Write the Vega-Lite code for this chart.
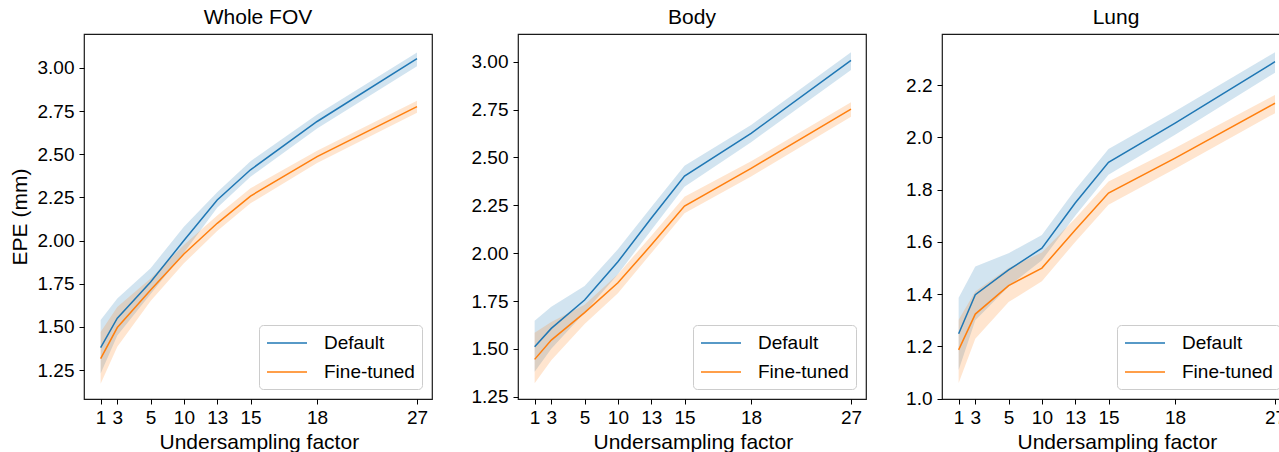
{
  "$schema": "https://vega.github.io/schema/vega-lite/v6.json",
  "padding": {"left": 8, "top": 6, "right": 0, "bottom": 0},
  "background": "white",
  "datasets": {
    "epe": [
      {"panel": "Whole FOV", "method": "Default", "x": 1, "y": 1.38, "lo": 1.23, "hi": 1.54},
      {"panel": "Whole FOV", "method": "Default", "x": 3, "y": 1.55, "lo": 1.45, "hi": 1.665},
      {"panel": "Whole FOV", "method": "Default", "x": 5, "y": 1.76, "lo": 1.69, "hi": 1.84},
      {"panel": "Whole FOV", "method": "Default", "x": 10, "y": 2.0, "lo": 1.93, "hi": 2.08},
      {"panel": "Whole FOV", "method": "Default", "x": 13, "y": 2.235, "lo": 2.19, "hi": 2.28},
      {"panel": "Whole FOV", "method": "Default", "x": 15, "y": 2.41, "lo": 2.37, "hi": 2.46},
      {"panel": "Whole FOV", "method": "Default", "x": 18, "y": 2.69, "lo": 2.65, "hi": 2.73},
      {"panel": "Whole FOV", "method": "Default", "x": 27, "y": 3.054, "lo": 3.01, "hi": 3.09},
      {"panel": "Whole FOV", "method": "Fine-tuned", "x": 1, "y": 1.316, "lo": 1.17, "hi": 1.47},
      {"panel": "Whole FOV", "method": "Fine-tuned", "x": 3, "y": 1.496, "lo": 1.385, "hi": 1.615},
      {"panel": "Whole FOV", "method": "Fine-tuned", "x": 5, "y": 1.714, "lo": 1.65, "hi": 1.78},
      {"panel": "Whole FOV", "method": "Fine-tuned", "x": 10, "y": 1.922, "lo": 1.868, "hi": 1.975},
      {"panel": "Whole FOV", "method": "Fine-tuned", "x": 13, "y": 2.1, "lo": 2.055, "hi": 2.145},
      {"panel": "Whole FOV", "method": "Fine-tuned", "x": 15, "y": 2.258, "lo": 2.216, "hi": 2.303},
      {"panel": "Whole FOV", "method": "Fine-tuned", "x": 18, "y": 2.486, "lo": 2.45, "hi": 2.52},
      {"panel": "Whole FOV", "method": "Fine-tuned", "x": 27, "y": 2.776, "lo": 2.741, "hi": 2.81},
      {"panel": "Body", "method": "Default", "x": 1, "y": 1.511, "lo": 1.38, "hi": 1.647},
      {"panel": "Body", "method": "Default", "x": 3, "y": 1.607, "lo": 1.5, "hi": 1.72},
      {"panel": "Body", "method": "Default", "x": 5, "y": 1.755, "lo": 1.69, "hi": 1.828},
      {"panel": "Body", "method": "Default", "x": 10, "y": 1.955, "lo": 1.89, "hi": 2.02},
      {"panel": "Body", "method": "Default", "x": 13, "y": 2.182, "lo": 2.12, "hi": 2.24},
      {"panel": "Body", "method": "Default", "x": 15, "y": 2.403, "lo": 2.347, "hi": 2.457},
      {"panel": "Body", "method": "Default", "x": 18, "y": 2.626, "lo": 2.58, "hi": 2.67},
      {"panel": "Body", "method": "Default", "x": 27, "y": 3.007, "lo": 2.957, "hi": 3.049},
      {"panel": "Body", "method": "Fine-tuned", "x": 1, "y": 1.445, "lo": 1.32, "hi": 1.584},
      {"panel": "Body", "method": "Fine-tuned", "x": 3, "y": 1.546, "lo": 1.44, "hi": 1.64},
      {"panel": "Body", "method": "Fine-tuned", "x": 5, "y": 1.689, "lo": 1.63, "hi": 1.73},
      {"panel": "Body", "method": "Fine-tuned", "x": 10, "y": 1.845, "lo": 1.79, "hi": 1.89},
      {"panel": "Body", "method": "Fine-tuned", "x": 13, "y": 2.042, "lo": 2.0, "hi": 2.09},
      {"panel": "Body", "method": "Fine-tuned", "x": 15, "y": 2.246, "lo": 2.208, "hi": 2.295},
      {"panel": "Body", "method": "Fine-tuned", "x": 18, "y": 2.443, "lo": 2.4, "hi": 2.48},
      {"panel": "Body", "method": "Fine-tuned", "x": 27, "y": 2.753, "lo": 2.713, "hi": 2.788},
      {"panel": "Lung", "method": "Default", "x": 1, "y": 1.249, "lo": 1.11, "hi": 1.387},
      {"panel": "Lung", "method": "Default", "x": 3, "y": 1.398, "lo": 1.3, "hi": 1.506},
      {"panel": "Lung", "method": "Default", "x": 5, "y": 1.493, "lo": 1.43, "hi": 1.557},
      {"panel": "Lung", "method": "Default", "x": 10, "y": 1.576, "lo": 1.53, "hi": 1.627},
      {"panel": "Lung", "method": "Default", "x": 13, "y": 1.749, "lo": 1.7, "hi": 1.8},
      {"panel": "Lung", "method": "Default", "x": 15, "y": 1.905, "lo": 1.857, "hi": 1.956},
      {"panel": "Lung", "method": "Default", "x": 18, "y": 2.055, "lo": 2.01, "hi": 2.1},
      {"panel": "Lung", "method": "Default", "x": 27, "y": 2.29, "lo": 2.248, "hi": 2.326},
      {"panel": "Lung", "method": "Fine-tuned", "x": 1, "y": 1.187, "lo": 1.06, "hi": 1.302},
      {"panel": "Lung", "method": "Fine-tuned", "x": 3, "y": 1.324, "lo": 1.23, "hi": 1.41},
      {"panel": "Lung", "method": "Fine-tuned", "x": 5, "y": 1.433, "lo": 1.37, "hi": 1.5},
      {"panel": "Lung", "method": "Fine-tuned", "x": 10, "y": 1.5, "lo": 1.45, "hi": 1.56},
      {"panel": "Lung", "method": "Fine-tuned", "x": 13, "y": 1.646, "lo": 1.6, "hi": 1.69},
      {"panel": "Lung", "method": "Fine-tuned", "x": 15, "y": 1.787, "lo": 1.742, "hi": 1.831},
      {"panel": "Lung", "method": "Fine-tuned", "x": 18, "y": 1.921, "lo": 1.88, "hi": 1.96},
      {"panel": "Lung", "method": "Fine-tuned", "x": 27, "y": 2.131, "lo": 2.093, "hi": 2.163}
    ]
  },
  "data": {"name": "epe"},
  "spacing": 37,
  "resolve": {"scale": {"y": "independent", "color": "independent", "x": "independent"}, "legend": {"color": "independent"}},
  "hconcat": [
    {
      "width": 348, "height": 365,
      "title": {"text": "Whole FOV"},
      "transform": [{"filter": "datum.panel === 'Whole FOV'"}],
      "encoding": {
        "x": {"field": "x", "type": "quantitative",
              "scale": {"domain": [1, 3, 5, 10, 13, 15, 18, 27], "range": [16.65, 33.3, 66.6, 99.9, 133.2, 166.5, 233.1, 333.0], "nice": false, "zero": false},
              "axis": {"values": [1, 3, 5, 10, 13, 15, 18, 27], "title": "Undersampling factor"}},
        "color": {"field": "method", "type": "nominal", "scale": {"domain": ["Default", "Fine-tuned"], "range": ["#1f77b4", "#ff7f0e"]}, "legend": {}}
      },
      "layer": [
        {"mark": {"type": "area", "opacity": 0.2},
         "encoding": {"y": {"field": "lo", "type": "quantitative", "scale": {"domain": [1.082, 3.197], "nice": false, "zero": false},
                            "axis": {"values": [1.25, 1.5, 1.75, 2.0, 2.25, 2.5, 2.75, 3.0], "format": ".2f", "title": "EPE (mm)"}},
                      "y2": {"field": "hi"}}},
        {"mark": {"type": "line", "strokeWidth": 1.5},
         "encoding": {"y": {"field": "y", "type": "quantitative", "scale": {"domain": [1.082, 3.197], "nice": false, "zero": false},
                            "axis": {"values": [1.25, 1.5, 1.75, 2.0, 2.25, 2.5, 2.75, 3.0], "format": ".2f", "title": "EPE (mm)"}}}}
      ]
    },
    {
      "width": 348, "height": 365,
      "title": {"text": "Body"},
      "transform": [{"filter": "datum.panel === 'Body'"}],
      "encoding": {
        "x": {"field": "x", "type": "quantitative",
              "scale": {"domain": [1, 3, 5, 10, 13, 15, 18, 27], "range": [16.65, 33.3, 66.6, 99.9, 133.2, 166.5, 233.1, 333.0], "nice": false, "zero": false},
              "axis": {"values": [1, 3, 5, 10, 13, 15, 18, 27], "title": "Undersampling factor"}},
        "color": {"field": "method", "type": "nominal", "scale": {"domain": ["Default", "Fine-tuned"], "range": ["#1f77b4", "#ff7f0e"]}, "legend": {}}
      },
      "layer": [
        {"mark": {"type": "area", "opacity": 0.2},
         "encoding": {"y": {"field": "lo", "type": "quantitative", "scale": {"domain": [1.238, 3.145], "nice": false, "zero": false},
                            "axis": {"values": [1.25, 1.5, 1.75, 2.0, 2.25, 2.5, 2.75, 3.0], "format": ".2f", "title": null}},
                      "y2": {"field": "hi"}}},
        {"mark": {"type": "line", "strokeWidth": 1.5},
         "encoding": {"y": {"field": "y", "type": "quantitative", "scale": {"domain": [1.238, 3.145], "nice": false, "zero": false},
                            "axis": {"values": [1.25, 1.5, 1.75, 2.0, 2.25, 2.5, 2.75, 3.0], "format": ".2f", "title": null}}}}
      ]
    },
    {
      "width": 348, "height": 365,
      "title": {"text": "Lung"},
      "transform": [{"filter": "datum.panel === 'Lung'"}],
      "encoding": {
        "x": {"field": "x", "type": "quantitative",
              "scale": {"domain": [1, 3, 5, 10, 13, 15, 18, 27], "range": [16.65, 33.3, 66.6, 99.9, 133.2, 166.5, 233.1, 333.0], "nice": false, "zero": false},
              "axis": {"values": [1, 3, 5, 10, 13, 15, 18, 27], "title": "Undersampling factor"}},
        "color": {"field": "method", "type": "nominal", "scale": {"domain": ["Default", "Fine-tuned"], "range": ["#1f77b4", "#ff7f0e"]}, "legend": {}}
      },
      "layer": [
        {"mark": {"type": "area", "opacity": 0.2},
         "encoding": {"y": {"field": "lo", "type": "quantitative", "scale": {"domain": [0.999, 2.396], "nice": false, "zero": false},
                            "axis": {"values": [1.0, 1.2, 1.4, 1.6, 1.8, 2.0, 2.2], "format": ".1f", "title": null}},
                      "y2": {"field": "hi"}}},
        {"mark": {"type": "line", "strokeWidth": 1.5},
         "encoding": {"y": {"field": "y", "type": "quantitative", "scale": {"domain": [0.999, 2.396], "nice": false, "zero": false},
                            "axis": {"values": [1.0, 1.2, 1.4, 1.6, 1.8, 2.0, 2.2], "format": ".1f", "title": null}}}}
      ]
    }
  ],
  "config": {
    "font": "Liberation Sans",
    "view": {"stroke": "#1a1a1a", "strokeWidth": 1.2},
    "title": {"fontSize": 21, "fontWeight": "normal", "color": "#000", "offset": 6, "baseline": "alphabetic", "font": "Liberation Sans"},
    "axis": {
      "grid": false, "domain": false,
      "ticks": true, "tickSize": 5, "tickColor": "#000", "tickWidth": 1,
      "labelFontSize": 19, "labelColor": "#000", "labelFont": "Liberation Sans",
      "titleFontSize": 21, "titleFontWeight": "normal", "titleColor": "#000", "titleFont": "Liberation Sans"
    },
    "axisX": {"labelPadding": 4, "titlePadding": 4, "labelFlush": false, "labelOverlap": false},
    "axisY": {"labelPadding": 5, "titlePadding": 7, "labelOverlap": false},
    "legend": {
      "orient": "bottom-right", "offset": 10, "title": null,
      "strokeColor": "#cccccc", "fillColor": "rgba(255,255,255,0.8)", "cornerRadius": 4,
      "padding": 7, "labelFontSize": 19, "labelColor": "#000", "labelFont": "Liberation Sans", "labelOffset": 36,
      "symbolType": "M-1,0H3", "symbolSize": 400, "symbolStrokeWidth": 1.5, "symbolOpacity": 1, "rowPadding": 8
    }
  }
}
